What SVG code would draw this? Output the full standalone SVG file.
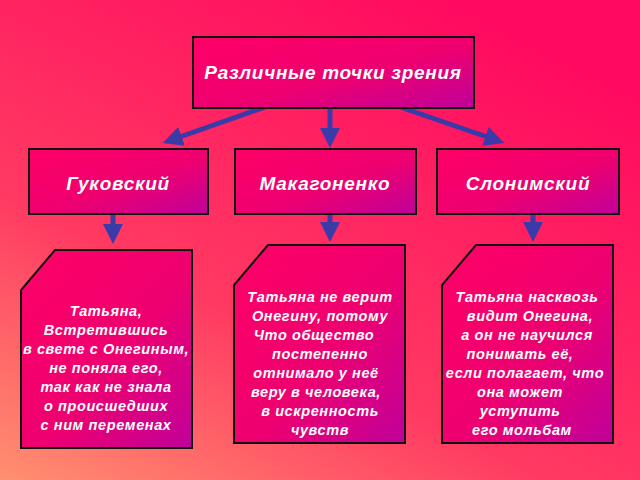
<svg xmlns="http://www.w3.org/2000/svg" width="640" height="480" viewBox="0 0 640 480">
<defs>
<linearGradient id="bg" x1="0.7" y1="0" x2="0" y2="1"><stop offset="0" stop-color="#ff0a60"/><stop offset="0.6" stop-color="#ff3a62"/><stop offset="1" stop-color="#ff9070"/></linearGradient>
<linearGradient id="box" x1="0" y1="0" x2="1" y2="1"><stop offset="0" stop-color="#ff0066"/><stop offset="0.55" stop-color="#ee0070"/><stop offset="1" stop-color="#c0009a"/></linearGradient>
<marker id="ah" viewBox="0 0 10 10" refX="4" refY="5" markerWidth="4" markerHeight="4" orient="auto" markerUnits="strokeWidth"><path d="M0,0 L10,5 L0,10 z" fill="#3a3aa8"/></marker>
</defs>
<style>
.b{fill:url(#box);stroke:#111;stroke-width:2}
.h{font-family:"Liberation Sans",Arial,sans-serif;font-style:italic;font-weight:bold;font-size:19px;letter-spacing:0.7px;fill:#fff;text-anchor:middle}
.t{font-family:"Liberation Sans",Arial,sans-serif;font-style:italic;font-weight:bold;font-size:14.5px;letter-spacing:0.6px;fill:#fff;text-anchor:middle}
.c{stroke:#3a3aa8;stroke-width:5;fill:none;marker-end:url(#ah)}
</style>
<rect width="640" height="480" fill="url(#bg)"/>
<g id="connectors">
<line class="c" x1="285" y1="100" x2="174" y2="139"/>
<line class="c" x1="330" y1="101" x2="330" y2="136"/>
<line class="c" x1="380" y1="100" x2="493" y2="139"/>
<line class="c" x1="113" y1="212" x2="113" y2="232"/>
<line class="c" x1="330" y1="212" x2="330" y2="230"/>
<line class="c" x1="533" y1="212" x2="533" y2="230"/>
</g>
<g id="top"><rect class="b" x="193" y="37" width="281" height="71"/><text class="h" x="333" y="79">Различные точки зрения</text></g>
<g id="guk"><rect class="b" x="29" y="149" width="179" height="65"/><text class="h" x="118" y="190">Гуковский</text></g>
<g id="mak"><rect class="b" x="235" y="149" width="181" height="65"/><text class="h" x="325" y="190">Макагоненко</text></g>
<g id="slon"><rect class="b" x="437" y="149" width="182" height="65"/><text class="h" x="528" y="190">Слонимский</text></g>
<g id="b1"><path class="b" d="M55,250 H192 V448 H21 V290 Z"/>
<text class="t" x="106" y="316">Татьяна,</text><text class="t" x="106" y="335">Встретившись</text><text class="t" x="106" y="354">в свете с Онегиным,</text><text class="t" x="106" y="373">не поняла его,</text><text class="t" x="106" y="392">так как не знала</text><text class="t" x="106" y="411">о происшедших</text><text class="t" x="106" y="430">с ним переменах</text></g>
<g id="b2"><path class="b" d="M268,245 H405 V443 H234 V285 Z"/>
<text class="t" x="320" y="302">Татьяна не верит</text><text class="t" x="320" y="321">Онегину, потому</text><text class="t" x="314" y="340">Что общество</text><text class="t" x="320" y="359">постепенно</text><text class="t" x="316" y="378">отнимало у неё</text><text class="t" x="316" y="397">веру в человека,</text><text class="t" x="320" y="416">в искренность</text><text class="t" x="320" y="435">чувств</text></g>
<g id="b3"><path class="b" d="M476,245 H613 V443 H442 V285 Z"/>
<text class="t" x="527" y="302">Татьяна насквозь</text><text class="t" x="530" y="321">видит Онегина,</text><text class="t" x="527" y="340">а он не научился</text><text class="t" x="520" y="359">понимать её,</text><text class="t" x="525" y="378">если полагает, что</text><text class="t" x="520" y="397">она может</text><text class="t" x="520" y="416">уступить</text><text class="t" x="522" y="435">его мольбам</text></g>
</svg>
